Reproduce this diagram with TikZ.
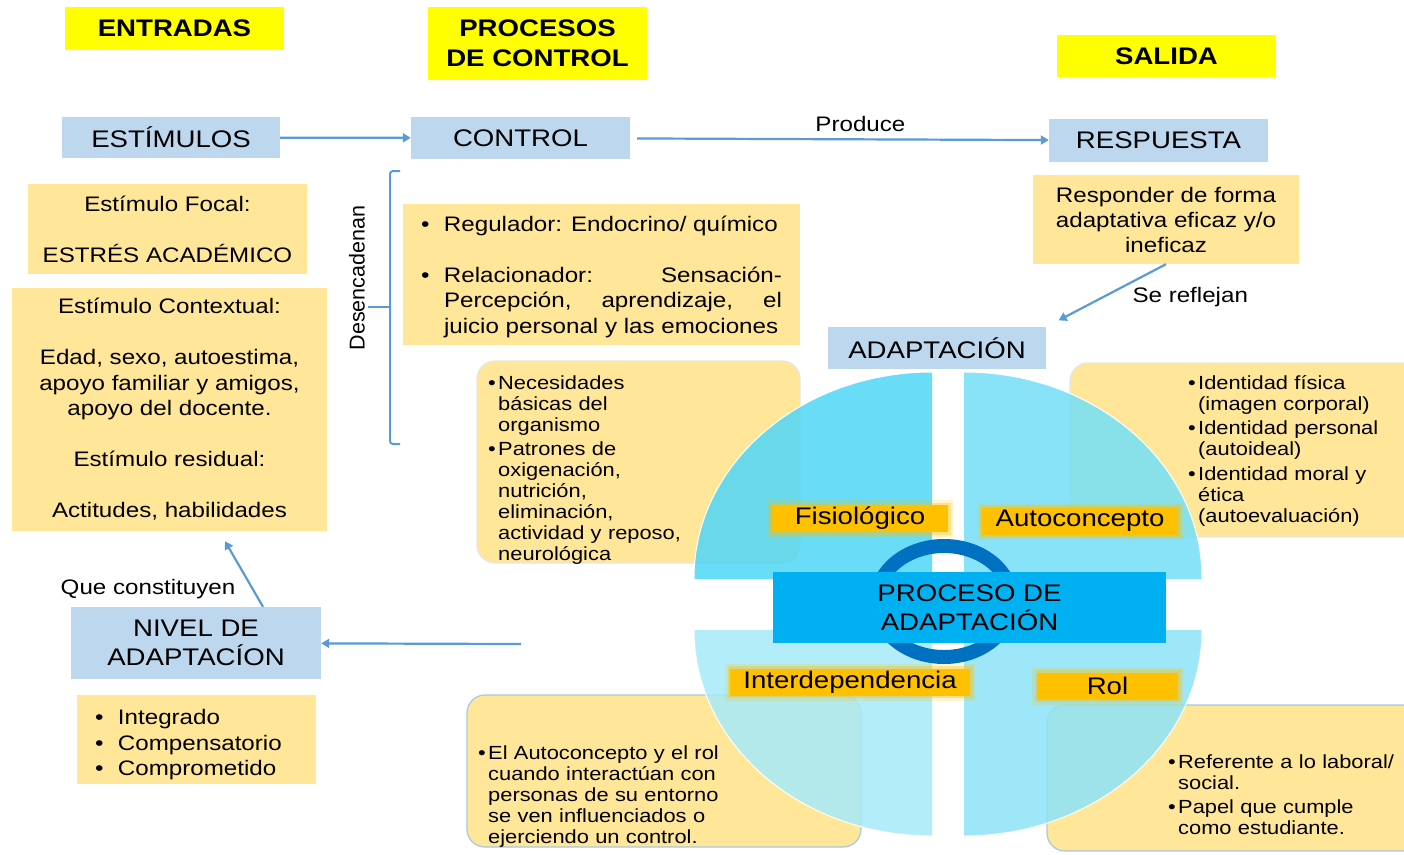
\documentclass[tikz,border=0pt]{standalone}
\usepackage{fontspec}
\usepackage{tikz}
\usetikzlibrary{arrows.meta, positioning}
\newfontfamily\dgfont[FakeStretch=1.15]{Liberation Sans}
\newfontfamily\dgplain{Liberation Sans}
\definecolor{hdryellow}{HTML}{FFFF00}
\definecolor{boxblue}{HTML}{BDD7EE}
\definecolor{boxsand}{HTML}{FFE699}
\definecolor{flowblue}{HTML}{5B9BD5}
\definecolor{ringblue}{HTML}{0070C0}
\definecolor{procblue}{HTML}{00B0F0}
\definecolor{tagorange}{HTML}{FFC000}
\definecolor{qtl}{HTML}{4FD6F6}
\definecolor{qtr}{HTML}{74DFF8}
\definecolor{qbl}{HTML}{A6EAF9}
\definecolor{qbr}{HTML}{8CE3F8}
\newcommand\fsbig{\dgfont\fontsize{24}{29}\selectfont}
\newcommand\fsmid{\dgfont\fontsize{21}{25.5}\selectfont}
\newcommand\fssmall{\dgfont\fontsize{19}{21}\selectfont}
\newcommand\rbul[1][10pt]{\par\hangindent=#1\hangafter=1\noindent\makebox[#1][l]{•}}
\tikzset{hdr/.style={fill=hdryellow, minimum width=219pt, font=\fsbig\bfseries, align=center}}
\tikzset{blbox/.style={fill=boxblue, font=\fsbig, align=center}}
\tikzset{sandbox/.style={fill=boxsand, font=\fsmid, align=center}}
\tikzset{rbox/.style={fill=boxsand, rounded corners=18pt, draw=#1, line width=1.2pt}}
\tikzset{rbox/.default=black!10}
\tikzset{txt/.style={font=\fssmall, text width=#1, align=left, inner sep=0pt, anchor=north west}}
\tikzset{glowtag/.style={fill=tagorange, font=\fsbig, minimum height=27pt, inner sep=0pt,
  preaction={draw=tagorange, draw opacity=0.18, line width=10pt},
  preaction={draw=tagorange, draw opacity=0.35, line width=5pt}}}
\tikzset{flow/.style={draw=flowblue, line width=2.2pt, -{Triangle[width=9pt, length=8pt]}}}
\begin{document}
\begin{tikzpicture}[x=1pt, y=-1pt]
\path[use as bounding box, fill=white] (0,0) rectangle (1404,854);
\clip (0,0) rectangle (1404,854);
% headers
\node[hdr, minimum height=43pt] (entradas) at (174.5,28.5) {ENTRADAS};
\node[hdr, minimum height=73pt, font=\dgfont\fontsize{24}{30}\selectfont\bfseries] (procesos) at (537.5,43.5) {PROCESOS\\DE CONTROL};
\node[hdr, minimum height=42pt] (salida) at (1166.5,56) {SALIDA};
% main row
\node[blbox, minimum width=218pt, minimum height=41pt] (estimulos) at (171,137.5) {ESTÍMULOS};
\node[blbox, minimum width=219pt, minimum height=42pt] (control) at (520.5,138) {CONTROL};
\node[blbox, minimum width=219pt, minimum height=43pt] (respuesta) at (1158.5,140.5) {RESPUESTA};
\draw[flow] (estimulos) -- (control);
\draw[flow, shorten <=7pt] (control) -- (respuesta) node[pos=.55, above=3pt, font=\fsmid] (produce) {Produce};
% entradas
\node[sandbox, minimum width=279pt, minimum height=90pt] (focal) at (167.5,229) {Estímulo Focal:\\[25.5pt]ESTRÉS ACADÉMICO};
\node[sandbox, minimum width=315pt, minimum height=243pt] (contextual) at (169.5,409.5) {Estímulo Contextual:\\[25.5pt]Edad, sexo, autoestima,\\apoyo familiar y amigos,\\apoyo del docente.\\[25.5pt]Estímulo residual:\\[25.5pt]Actitudes, habilidades};
% control
\node[rotate=90, font=\dgplain\fontsize{21.5}{25}\selectfont] (desenc) at (357,278) {Desencadenan};
\draw[flowblue, line width=2pt, rounded corners=3pt] (400,171) -- (390,171) -- (390,444) -- (400,444);
\draw[flowblue, line width=2pt] (368,307) -- (390,307);
\node[sandbox, minimum width=397pt, minimum height=141pt, text width=361pt, inner xsep=18pt, align=justify] (regul) at (601.5,274.5) {\vspace*{-6pt}\rbul[23pt]Regulador: Endocrino/ químico\par\vspace{25.5pt}\rbul[23pt]Relacionador: Sensación-\linebreak Percepción, aprendizaje, el\linebreak juicio personal y las emociones\par};
% salida
\node[sandbox, minimum width=266pt, minimum height=89pt, font=\dgfont\fontsize{21}{25}\selectfont] (responder) at (1166,219.5) {Responder de forma\\adaptativa eficaz y/o\\ineficaz};
\node[blbox, minimum width=218pt, minimum height=42pt] (adapt) at (937,348) {ADAPTACIÓN};
\draw[flow, shorten >=14pt] (responder.south) -- (adapt.north east) node[pos=.5, anchor=west, xshift=22pt, yshift=-2pt, font=\fsmid] (reflejan) {Se reflejan};
% nivel de adaptacion
\node[blbox, minimum width=250pt, minimum height=72pt] (nivel) at (196,643) {NIVEL DE\\ADAPTACÍON};
\node[sandbox, minimum width=239pt, minimum height=89pt, text width=203pt, inner xsep=18pt, align=left] (niveles) at (196.5,739.5) {\rbul[23pt]Integrado\rbul[23pt]Compensatorio\rbul[23pt]Comprometido};
\coordinate (nivelsrc) at (521,644);
\draw[flow] (nivelsrc) -- (nivel);
\draw[flow] ([xshift=67pt]nivel.north) -- ([xshift=55.5pt, yshift=-10pt]contextual.south);
\node[font=\fsmid] (queconst) at (148,589) {Que constituyen};
% modos
\node[rbox, minimum width=323pt, minimum height=202pt] (fisiobox) at (638.5,462) {};
\node[rbox, minimum width=360pt, minimum height=174pt] (autobox) at (1250,450) {};
\node[rbox=flowblue!55, minimum width=394pt, minimum height=152pt] (interbox) at (664,771) {};
\node[rbox=flowblue!55, minimum width=383pt, minimum height=146pt] (rolbox) at (1238.5,778) {};
\node[txt=300pt] (fisiotxt) at (488,368) {\rbul Necesidades\newline básicas del\newline organismo\par\vspace{3.5pt}\rbul Patrones de\newline oxigenación,\newline nutrición,\newline eliminación,\newline actividad y reposo,\newline neurológica\par};
\node[txt=210pt] (autotxt) at (1188,368) {\rbul Identidad física\newline (imagen corporal)\par\vspace{3.5pt}\rbul Identidad personal\newline (autoideal)\par\vspace{3.5pt}\rbul Identidad moral y\newline ética\newline (autoevaluación)\par};
\node[txt=300pt] (intertxt) at (478,738) {\rbul El Autoconcepto y el rol\newline cuando interactúan con\newline personas de su entorno\newline se ven influenciados o\newline ejerciendo un control.\par};
\node[txt=230pt] (roltxt) at (1168,747) {\rbul Referente a lo laboral/\newline social.\par\vspace{3.5pt}\rbul Papel que cumple\newline como estudiante.\par};
% circulo de adaptacion
\begin{scope}
\clip (688,366) rectangle (932,578);
\filldraw[fill=qtl, fill opacity=.85, draw=white, line width=1pt] (932,578) ellipse [x radius=238pt, y radius=206pt];
\end{scope}
\begin{scope}
\clip (964,366) rectangle (1208,578);
\filldraw[fill=qtr, fill opacity=.85, draw=white, line width=1pt] (964,578) ellipse [x radius=238pt, y radius=206pt];
\end{scope}
\begin{scope}
\clip (688,630) rectangle (932,842);
\filldraw[fill=qbl, fill opacity=.85, draw=white, line width=1pt] (932,630) ellipse [x radius=238pt, y radius=206pt];
\end{scope}
\begin{scope}
\clip (964,630) rectangle (1208,842);
\filldraw[fill=qbr, fill opacity=.85, draw=white, line width=1pt] (964,630) ellipse [x radius=238pt, y radius=206pt];
\end{scope}
\draw[ringblue, line width=14pt] (944,601.5) ellipse [x radius=68pt, y radius=55.5pt];
\node[fill=procblue, minimum width=393pt, minimum height=71pt, font=\fsbig, align=center] (proceso) at (969.5,607.5) {PROCESO DE\\ADAPTACIÓN};
\node[glowtag, minimum width=176pt] (fisio) at (860,518.5) {Fisiológico};
\node[glowtag, minimum width=196pt] (auto) at (1080,521) {Autoconcepto};
\node[glowtag, minimum width=240pt] (inter) at (850,682) {Interdependencia};
\node[glowtag, minimum width=141pt] (rol) at (1107.5,686) {Rol};
\end{tikzpicture}
\end{document}
